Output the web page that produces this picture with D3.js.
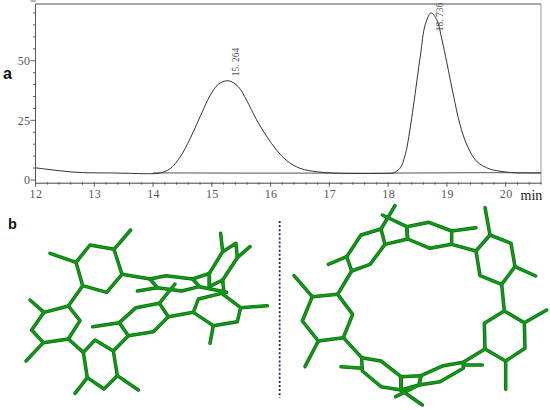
<!DOCTYPE html>
<html><head><meta charset="utf-8">
<script src="https://cdn.jsdelivr.net/npm/d3@7"></script>
<style>html,body{margin:0;padding:0;background:#fff}svg{display:block}</style></head><body>
<svg id="c" width="550" height="410"></svg>
<script>
const xTicks=[12,13,14,15,16,17,18,19,20];
const yTicks=[0,25,50];
const peakLabels=[{t:15.264,v:43.5,text:"15. 264"},{t:18.736,v:62.3,text:"18. 736"}];
const trace=[[12,5.1],[12.2,4.5],[12.4,3.9],[12.6,3.4],[12.8,3.1],[13,3],[13.3,2.95],[13.6,2.8],[13.9,2.65],[14.05,2.7],[14.12,2.95],[14.29,4.7],[14.46,9.6],[14.63,17.3],[14.8,26.5],[14.97,35.4],[15.11,40.1],[15.28,41.6],[15.45,39.1],[15.59,33.5],[15.76,25.3],[15.93,18.4],[16.1,12.6],[16.27,8.2],[16.5,4.9],[16.8,3.4],[17,3],[17.3,2.75],[17.6,2.75],[17.9,2.75],[18.03,2.8],[18.09,3],[18.2,4.9],[18.29,10.5],[18.37,21],[18.43,31],[18.55,52.4],[18.63,65],[18.73,70],[18.83,67],[18.91,59.4],[19,49],[19.11,35.6],[19.22,23.5],[19.34,14.7],[19.51,7.7],[19.73,4.6],[19.9,3.7],[20.1,3.1],[20.3,2.95],[20.6,2.95]];
const baseline=[[14,3],[17,2.85],[18,2.85],[19.5,3.1],[20.6,3]];
/* Molecule geometry: [closed ring atoms] and bonds, in the picture's own units */
const leftRings=[
[[228,172],[270,120],[342,133],[366,208],[320,262],[248,242]],
[[205,303],[240,347],[205,402],[130,413],[95,375],[132,322]],
[[250,442],[285,405],[340,438],[352,512],[312,552],[262,518]],
[[385,392],[358,353],[408,308],[478,295],[505,335],[460,380]],
[[580,322],[595,282],[665,265],[722,308],[712,350],[640,362]],
[[628,205],[668,140],[708,115],[712,158],[668,225],[628,245]],
[[450,222],[498,212],[578,222],[598,245],[545,258],[472,248]]];
const leftBonds=[
[[228,172],[150,145]],[[342,133],[392,75]],[[248,242],[205,303]],[[132,322],[90,285]],[[130,413],[78,468]],[[205,402],[250,442]],[[262,518],[225,565]],[[352,512],[415,555]],[[340,438],[385,392]],[[358,353],[278,365]],[[478,295],[525,237]],[[505,335],[580,322]],[[722,308],[802,302]],[[640,362],[630,415]],[[668,140],[662,85]],[[712,158],[750,125]],[[668,225],[672,265]],[[628,245],[628,205]],[[472,248],[412,258]],[[598,245],[680,262]],[[366,208],[450,222]],[[578,222],[628,205]]];
const rightRings=[
[[112,275],[188,268],[233,328],[205,398],[130,408],[82,348]],
[[230,198],[215,155],[258,90],[318,72],[330,118],[285,178]],
[[395,65],[462,52],[530,78],[530,118],[465,130],[398,102]],
[[603,138],[645,90],[708,115],[720,185],[680,238],[615,212]],
[[688,318],[748,353],[750,430],[692,468],[630,432],[628,355]],
[[565,472],[505,482],[438,512],[432,540],[495,530],[565,490]],
[[378,515],[318,468],[260,458],[262,498],[318,545],[378,555]]];
const rightBonds=[
[[112,275],[57,212]],[[130,408],[90,485]],[[188,268],[230,198]],[[215,155],[160,178]],[[318,72],[360,2]],[[330,118],[398,102]],[[322,30],[395,65]],[[530,78],[603,68]],[[530,118],[603,138]],[[645,90],[630,8]],[[720,185],[782,213]],[[680,238],[688,318]],[[748,353],[815,315]],[[692,468],[692,553]],[[630,432],[565,472]],[[565,480],[622,480]],[[438,512],[378,515]],[[432,540],[378,555]],[[262,490],[198,485]],[[378,555],[442,600]],[[432,540],[362,575]],[[378,515],[378,555]],[[438,512],[432,540]],[[205,398],[260,458]],[[395,65],[398,102]]];
const divider=[[14,48],[14,578]];

const svg=d3.select("#c");
const x=d3.scaleLinear().domain([12,20.6]).range([35.5,505.7+0.6*58.77]);
const y=d3.scaleLinear().domain([0,50]).range([180,60.7]);
const axisY=182.7, topY=4;
const serif='"Liberation Serif","DejaVu Serif",serif';
const gray="#555";

// frame
svg.append("path").attr("d",`M${x(12)},${topY}H${x(20.6)}`).attr("fill","none").attr("stroke","#8a8a8a").attr("stroke-width",1.5);
svg.append("path").attr("d",`M${x(20.6)},${topY}V${axisY}`).attr("fill","none").attr("stroke","#999").attr("stroke-width",1);

const xAxis=d3.axisBottom(x).tickValues(xTicks).tickSize(0).tickFormat(d3.format("d"));
const gx=svg.append("g").attr("transform",`translate(0,${axisY})`).call(xAxis);
gx.select(".domain").attr("stroke","#444").attr("stroke-width",1);
gx.selectAll("text").attr("font-family",serif).attr("font-size",12).attr("fill",gray).attr("dy",0).attr("y",15.3).attr("letter-spacing",0.4);
svg.append("g").selectAll("line").data(d3.range(12,20.61,0.2)).join("line")
 .attr("x1",d=>x(d)).attr("x2",d=>x(d)).attr("y1",axisY-0.5).attr("y2",d=>axisY+(Math.abs(d-Math.round(d))<1e-6?4:2)).attr("stroke","#555").attr("stroke-width",1);

const gy=svg.append("g").attr("transform",`translate(${x(12)},0)`).call(d3.axisLeft(y).tickValues(yTicks).tickSize(0).tickFormat(d3.format("d")));
gy.select(".domain").remove();
gy.selectAll("text").attr("font-family",serif).attr("font-size",12).attr("fill",gray).attr("x",-5).attr("letter-spacing",0.4);
svg.append("g").selectAll("line").data(d3.range(0,76,5)).join("line")
 .attr("x1",d=>x(12)-(d%25===0?5:2.5)).attr("x2",x(12)).attr("y1",d=>y(d)).attr("y2",d=>y(d)).attr("stroke","#666").attr("stroke-width",1);
svg.append("line").attr("x1",x(12)).attr("x2",x(12)).attr("y1",topY).attr("y2",axisY).attr("stroke","#555");

const line=d3.line().x(d=>x(d[0])).y(d=>y(d[1])).curve(d3.curveCatmullRom.alpha(0.5));
svg.append("path").attr("d",line(baseline)).attr("fill","none").attr("stroke","#777").attr("stroke-width",1.2);
svg.append("path").attr("d",line(trace)).attr("fill","none").attr("stroke","#333").attr("stroke-width",1);

svg.append("g").selectAll("text").data(peakLabels).join("text")
 .attr("transform",d=>`translate(${x(d.t)+12},${y(d.v)}) rotate(-90)`)
 .attr("font-family",serif).attr("font-size",9.5).attr("fill","#555").text(d=>d.text);

svg.append("text").attr("x",520.5).attr("y",200).attr("font-family",serif).attr("font-size",14).attr("fill","#222").text("min");
svg.append("text").attr("x",3).attr("y",78.5).attr("font-family","Liberation Sans,Arial,sans-serif").attr("font-weight","bold").attr("font-size",16).attr("fill","#111").text("a");
svg.append("text").attr("x",8).attr("y",229.3).attr("font-family","Liberation Sans,Arial,sans-serif").attr("font-weight","bold").attr("font-size",14.5).attr("fill","#111").text("b");

// molecules
const mx=d3.scaleLinear().domain([0,3]).range([0,1]);
const my=d3.scaleLinear().domain([0,3]).range([0,1]);
function drawMol(rings,bonds,ox,oy){
  const g=svg.append("g").attr("transform",`translate(${ox},${oy})`);
  const l=d3.line().x(d=>mx(d[0])).y(d=>my(d[1]));
  const paths=[...rings.map(r=>l(r)+"Z"),...bonds.map(b=>l(b))];
  const st=(s,w)=>s.attr("d",d=>d).attr("fill","none").attr("stroke-linejoin","round").attr("stroke-linecap","round").attr("stroke",w[0]).attr("stroke-width",w[1]);
  st(g.append("g").selectAll("path").data(paths).join("path"),["#0a6a10",3.5]);
  st(g.append("g").selectAll("path").data(paths).join("path"),["#109a16",2.1]);
}
drawMol(leftRings,leftBonds,0,205);
drawMol(rightRings,rightBonds,275,205);

svg.append("line").attr("x1",mx(divider[0][0])+275).attr("x2",mx(divider[1][0])+275)
 .attr("y1",my(divider[0][1])+205).attr("y2",my(divider[1][1])+205)
 .attr("stroke","#1b2a4a").attr("stroke-width",1.8).attr("stroke-dasharray","2 2.1");
</script></body></html>
